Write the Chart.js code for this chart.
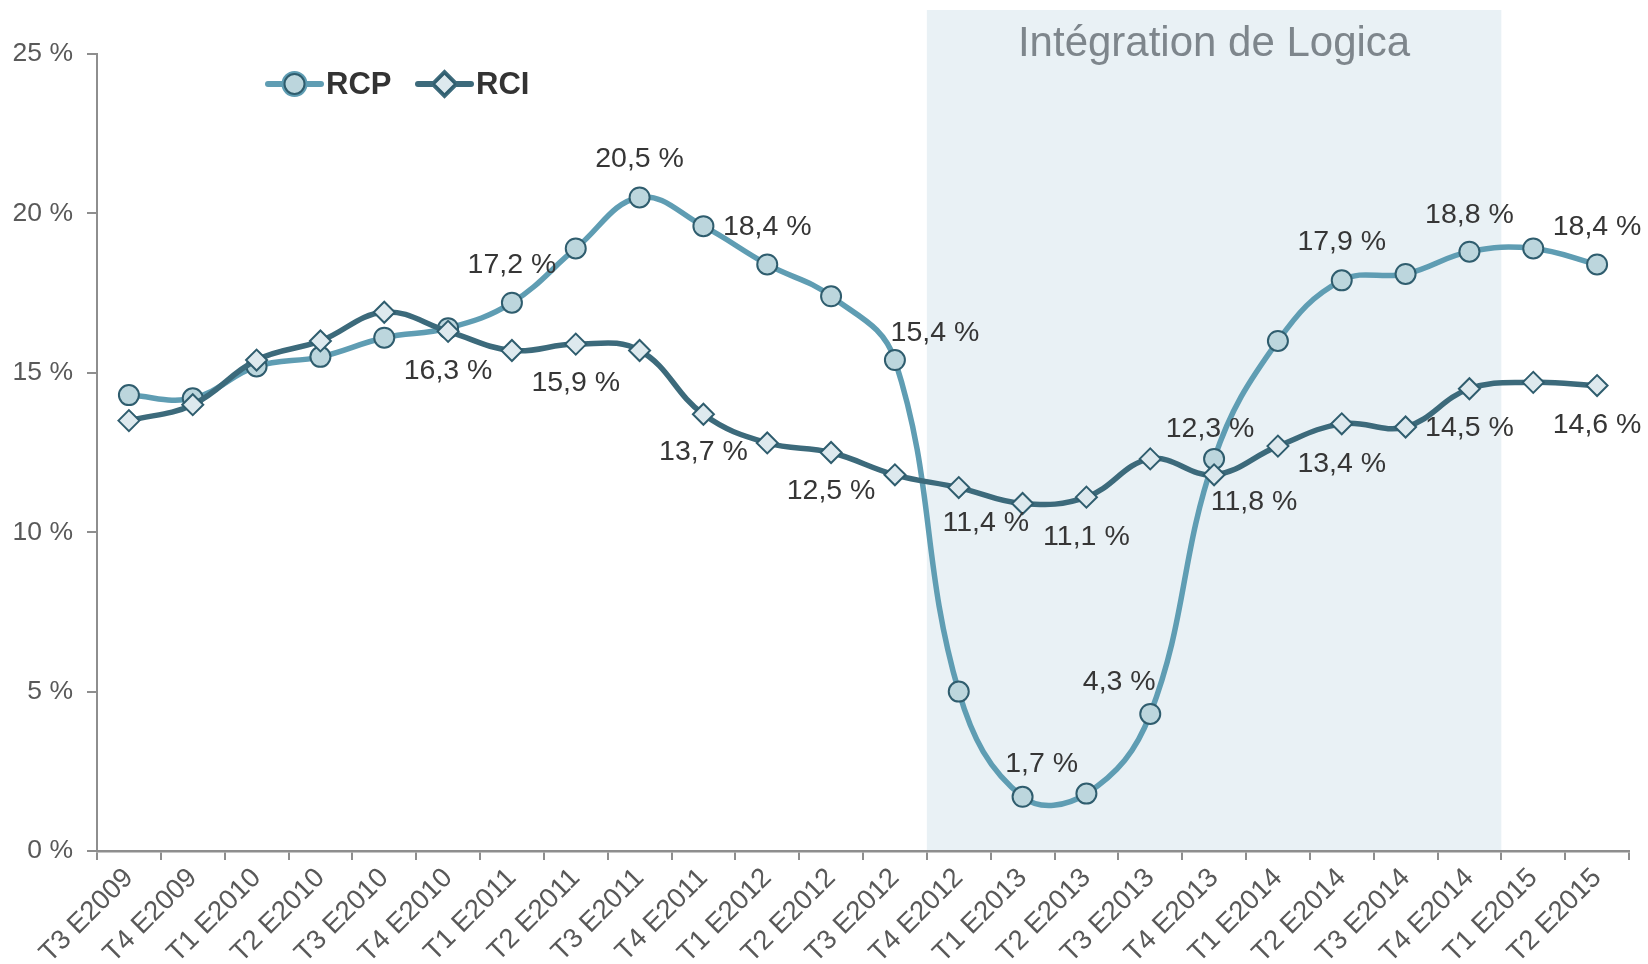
<!DOCTYPE html>
<html>
<head>
<meta charset="utf-8">
<script src="https://cdn.jsdelivr.net/npm/chart.js@4.4.1/dist/chart.umd.min.js"></script>
<style>
  html, body { margin: 0; padding: 0; background: #ffffff; }
  #wrap { width: 1648px; height: 964px; }
</style>
</head>
<body>
<div id="wrap"><canvas id="rcChart" width="1648" height="964"></canvas></div>
<script>
// Quarter labels
const quarters = [
    "T3 E2009", "T4 E2009", "T1 E2010", "T2 E2010", "T3 E2010", "T4 E2010",
    "T1 E2011", "T2 E2011", "T3 E2011", "T4 E2011", "T1 E2012", "T2 E2012",
    "T3 E2012", "T4 E2012", "T1 E2013", "T2 E2013", "T3 E2013", "T4 E2013",
    "T1 E2014", "T2 E2014", "T3 E2014", "T4 E2014", "T1 E2015", "T2 E2015"
];

// RCP series (%)
const rcpValues = [
    14.3, 14.2, 15.2, 15.5, 16.1, 16.4,
    17.2, 18.9, 20.5, 19.6, 18.4, 17.4,
    15.4, 5.0, 1.7, 1.8, 4.3, 12.3,
    16.0, 17.9, 18.1, 18.8, 18.9, 18.4
];

// RCI series (%)
const rciValues = [
    13.5, 14.0, 15.4, 16.0, 16.9, 16.3,
    15.7, 15.9, 15.7, 13.7, 12.8, 12.5,
    11.8, 11.4, 10.9, 11.1, 12.3, 11.8,
    12.7, 13.4, 13.3, 14.5, 14.7, 14.6
];

const yTicks = [0, 5, 10, 15, 20, 25];

// Highlighted period
const periodLabel = "Intégration de Logica";
const periodFrom = "T4 E2012";
const periodTo = "T4 E2014";

const FONT = "'Liberation Sans', Arial, Helvetica, sans-serif";
const RCP_LINE = "#5f9db3";
const RCI_LINE = "#3c6a7b";
const MARK_BORDER = "#2f5d6e";
const AXIS = "#8e8e8e";

// Which points carry a value label, and where (offset from the point)
const rcpLabelSpots = [
    { i: 6, dx: 0, dy: -38 }, { i: 8, dx: 0, dy: -38 }, { i: 10, dx: 0, dy: -37 },
    { i: 12, dx: 40, dy: -27 }, { i: 14, dx: 19, dy: -33 }, { i: 16, dx: -31, dy: -32 },
    { i: 17, dx: -4, dy: -30 }, { i: 19, dx: 0, dy: -38 }, { i: 21, dx: 0, dy: -37 },
    { i: 23, dx: 0, dy: -37 }
];
const rciLabelSpots = [
    { i: 5, dx: 0, dy: 40 }, { i: 7, dx: 0, dy: 39 }, { i: 9, dx: 0, dy: 38 },
    { i: 11, dx: 0, dy: 39 }, { i: 13, dx: 27, dy: 36 }, { i: 15, dx: 0, dy: 40 },
    { i: 17, dx: 40, dy: 27 }, { i: 19, dx: 0, dy: 40 }, { i: 21, dx: 0, dy: 39 },
    { i: 23, dx: 0, dy: 40 }
];

function pct(v) {
    return v.toFixed(1).replace(".", ",") + " %";
}

// shaded band + its caption, drawn behind everything
const periodBand = {
    id: "periodBand",
    beforeDraw(chart) {
        const x = chart.scales.x;
        const area = chart.chartArea;
        const a = quarters.indexOf(periodFrom);
        const b = quarters.indexOf(periodTo);
        const half = (x.getPixelForValue(1) - x.getPixelForValue(0)) / 2;
        const left = x.getPixelForValue(a) - half;
        const right = x.getPixelForValue(b) + half;
        const ctx = chart.ctx;
        ctx.save();
        ctx.fillStyle = "#e9f1f5";
        ctx.fillRect(left, 10, right - left, area.bottom - 10);
        ctx.fillStyle = "#7e868c";
        ctx.font = "42px " + FONT;
        ctx.textAlign = "center";
        ctx.textBaseline = "alphabetic";
        ctx.fillText(periodLabel, (left + right) / 2, 56);
        ctx.restore();
    }
};

// value labels next to the points
const valueLabels = {
    id: "valueLabels",
    afterDatasetsDraw(chart) {
        const ctx = chart.ctx;
        ctx.save();
        ctx.font = "28.5px " + FONT;
        ctx.fillStyle = "#363636";
        ctx.textAlign = "center";
        ctx.textBaseline = "middle";
        [[0, rcpLabelSpots], [1, rciLabelSpots]].forEach(([ds, spots]) => {
            const meta = chart.getDatasetMeta(ds);
            const values = chart.data.datasets[ds].data;
            spots.forEach(s => {
                const p = meta.data[s.i];
                ctx.fillText(pct(values[s.i]), p.x + s.dx, p.y + s.dy);
            });
        });
        ctx.restore();
    }
};

// legend inside the plot, top left
const lineLegend = {
    id: "lineLegend",
    afterDraw(chart) {
        const ctx = chart.ctx;
        const y = 84;
        const items = [
            { ds: chart.data.datasets[0], x0: 268, x1: 321 },
            { ds: chart.data.datasets[1], x0: 418, x1: 471 }
        ];
        ctx.save();
        items.forEach(it => {
            ctx.strokeStyle = it.ds.borderColor;
            ctx.lineWidth = 6;
            ctx.lineCap = "round";
            ctx.beginPath();
            ctx.moveTo(it.x0, y);
            ctx.lineTo(it.x1, y);
            ctx.stroke();
            Chart.helpers.drawPoint(ctx, {
                pointStyle: it.ds.pointStyle,
                radius: it.ds.pointRadius,
                borderWidth: it.ds.pointBorderWidth
            }, (it.x0 + it.x1) / 2, y);
            ctx.fillStyle = it.ds.pointBackgroundColor;
            ctx.strokeStyle = it.ds.pointBorderColor;
            ctx.lineWidth = it.ds.pointBorderWidth;
            ctx.fill();
            ctx.stroke();
            ctx.fillStyle = "#333333";
            ctx.font = "bold 31px " + FONT;
            ctx.textAlign = "left";
            ctx.textBaseline = "middle";
            ctx.fillText(it.ds.label, it.x1 + 5, y + 1);
        });
        ctx.restore();
    }
};

document.addEventListener("DOMContentLoaded", () => {
    const ctx = document.getElementById("rcChart").getContext("2d");
    new Chart(ctx, {
        type: "line",
        data: {
            labels: quarters,
            datasets: [
                {
                    label: "RCP",
                    data: rcpValues,
                    order: 2,
                    borderColor: RCP_LINE,
                    borderWidth: 5.5,
                    tension: 0.4,
                    pointStyle: "circle",
                    pointRadius: 10,
                    pointHoverRadius: 10,
                    pointBackgroundColor: "#bcd6dd",
                    pointBorderColor: MARK_BORDER,
                    pointBorderWidth: 2
                },
                {
                    label: "RCI",
                    data: rciValues,
                    order: 1,
                    borderColor: RCI_LINE,
                    borderWidth: 5.5,
                    tension: 0.4,
                    pointStyle: "rectRot",
                    pointRadius: 10.5,
                    pointHoverRadius: 10.5,
                    pointBackgroundColor: "#dde9ee",
                    pointBorderColor: MARK_BORDER,
                    pointBorderWidth: 2
                }
            ]
        },
        options: {
            responsive: false,
            animation: false,
            devicePixelRatio: 1,
            layout: { padding: { left: 0, top: 54, right: 19, bottom: 0 } },
            plugins: {
                legend: { display: false },
                tooltip: { enabled: false }
            },
            scales: {
                x: {
                    offset: true,
                    grid: { offset: true, drawOnChartArea: false, color: AXIS, lineWidth: 2, tickLength: 9 },
                    border: { color: AXIS, width: 2.5 },
                    ticks: {
                        autoSkip: false,
                        minRotation: 45,
                        maxRotation: 45,
                        padding: 2,
                        color: "#595959",
                        font: { family: FONT, size: 27.5 }
                    },
                    afterFit: s => { s.height = 113; }
                },
                y: {
                    min: yTicks[0],
                    max: yTicks[yTicks.length - 1],
                    afterBuildTicks: s => { s.ticks = yTicks.map(v => ({ value: v })); },
                    grid: { drawOnChartArea: false, color: AXIS, lineWidth: 2, tickLength: 10 },
                    border: { color: AXIS, width: 2 },
                    ticks: {
                        padding: 14,
                        color: "#595959",
                        font: { family: FONT, size: 26.5 },
                        callback: v => v + " %"
                    },
                    afterFit: s => { s.width = 97; }
                }
            }
        },
        plugins: [periodBand, valueLabels, lineLegend]
    });
});
</script>
</body>
</html>
